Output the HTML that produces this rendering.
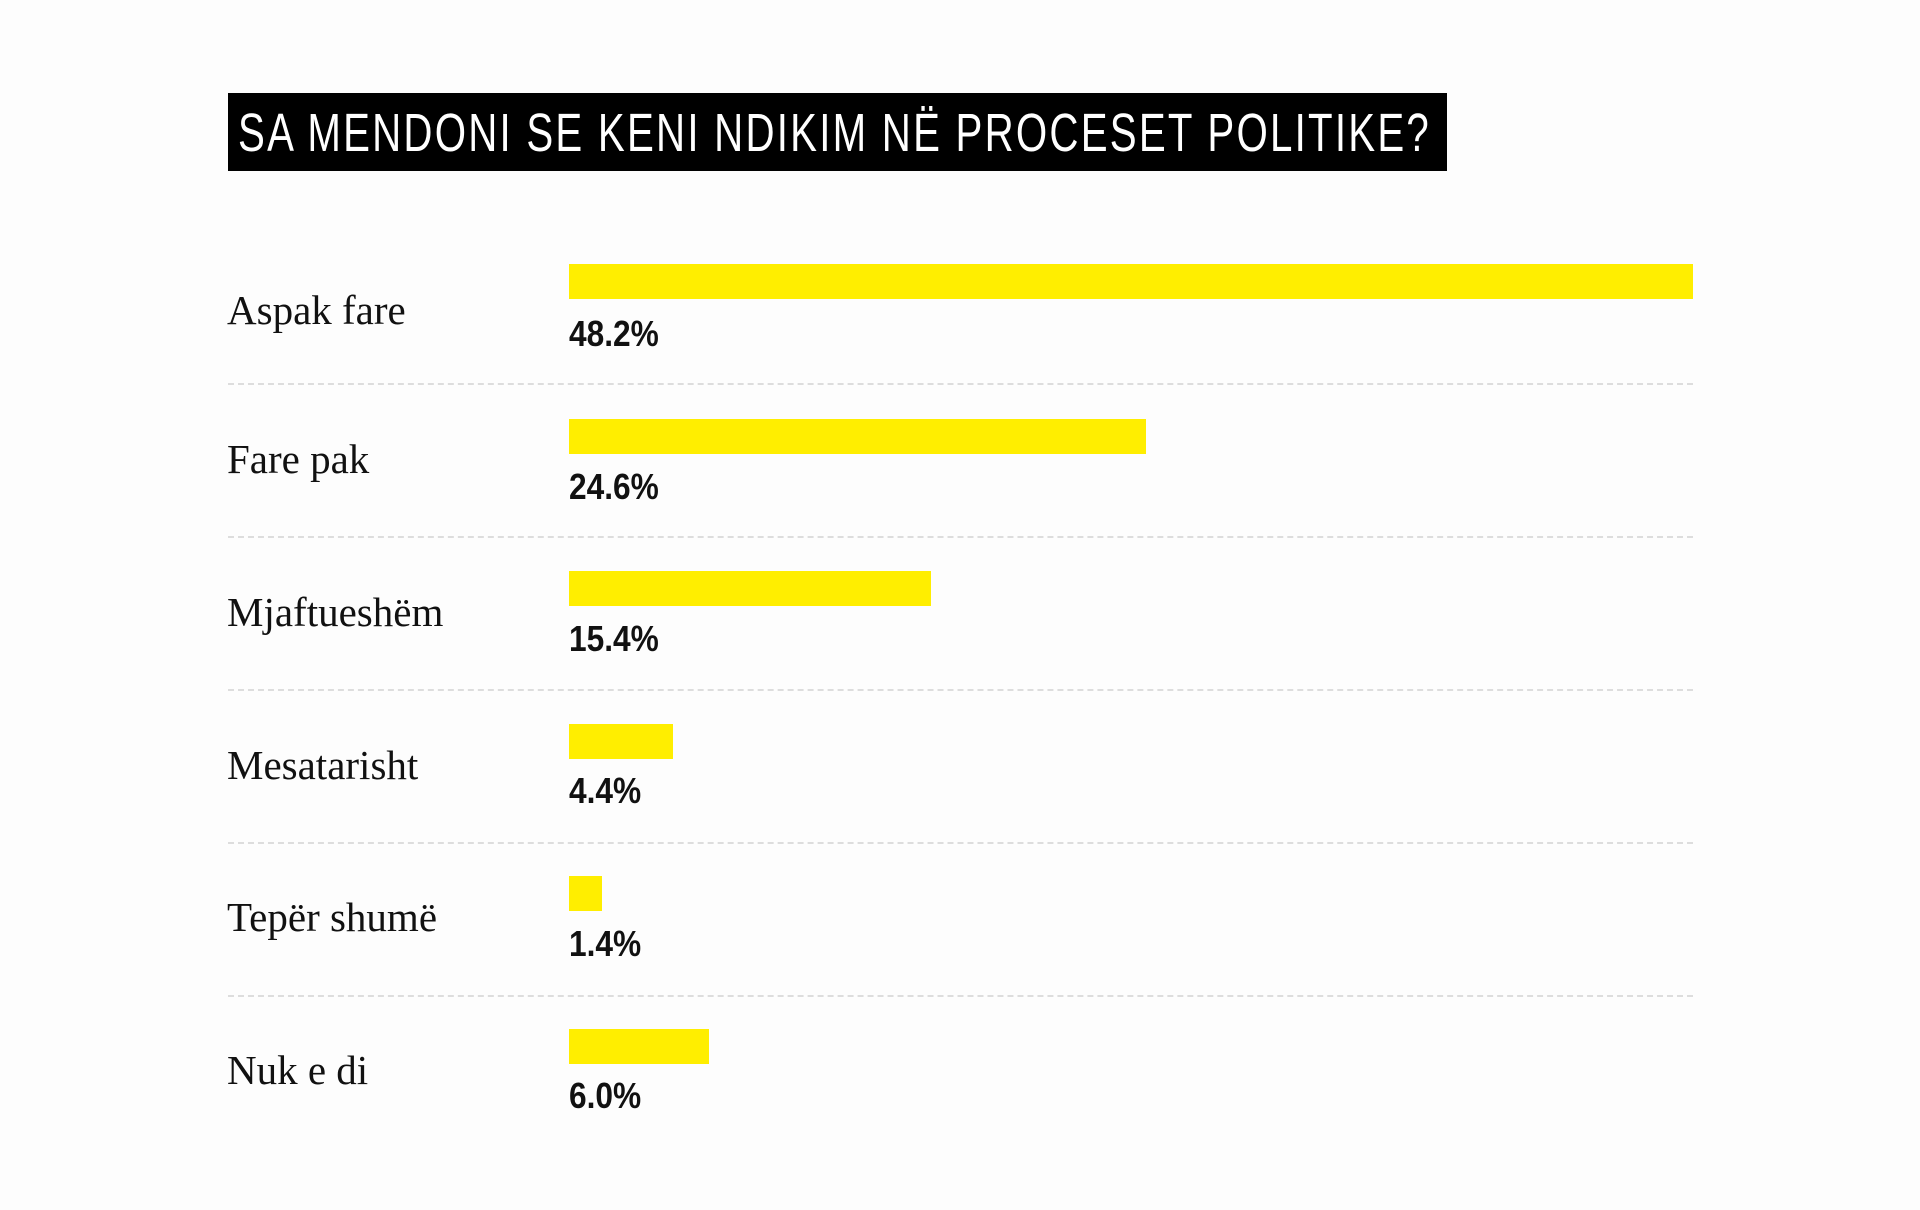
<!DOCTYPE html>
<html><head><meta charset="utf-8"><style>
body{margin:0;width:1920px;height:1210px;background:#fdfdfd;position:relative;overflow:hidden}
.tb{position:absolute;left:228px;top:93px;width:1219px;height:78px;background:#000}
.t{position:absolute;left:238px;top:93px;color:#fff;font-family:"Liberation Sans",sans-serif;font-size:54px;line-height:80px;letter-spacing:3px;white-space:nowrap;transform:scaleX(0.745);transform-origin:0 0}
.b{position:absolute;left:569px;height:35px;background:#ffee00}
.c{position:absolute;left:227px;font-family:"Liberation Serif",serif;font-size:41px;color:#111}
.p{position:absolute;left:569px;font-family:"Liberation Sans",sans-serif;font-weight:bold;font-size:36px;color:#111;transform:scaleX(0.88);transform-origin:0 0}
.d{position:absolute;left:228px;width:1465px;border-top:2px dashed #ddd}
</style></head><body>
<div class="tb"></div>
<div class="t">SA MENDONI SE KENI NDIKIM NË PROCESET POLITIKE?</div>

<div class="c" style="top:286px">Aspak fare</div>
<div class="b" style="top:264px;width:1124px"></div>
<div class="p" style="top:313px">48.2%</div>
<div class="d" style="top:383px"></div>

<div class="c" style="top:435px">Fare pak</div>
<div class="b" style="top:419px;width:577px"></div>
<div class="p" style="top:466px">24.6%</div>
<div class="d" style="top:536px"></div>

<div class="c" style="top:588px">Mjaftueshëm</div>
<div class="b" style="top:571px;width:362px"></div>
<div class="p" style="top:618px">15.4%</div>
<div class="d" style="top:689px"></div>

<div class="c" style="top:741px">Mesatarisht</div>
<div class="b" style="top:724px;width:104px"></div>
<div class="p" style="top:770px">4.4%</div>
<div class="d" style="top:842px"></div>

<div class="c" style="top:893px">Tepër shumë</div>
<div class="b" style="top:876px;width:33px"></div>
<div class="p" style="top:923px">1.4%</div>
<div class="d" style="top:995px"></div>

<div class="c" style="top:1046px">Nuk e di</div>
<div class="b" style="top:1029px;width:140px"></div>
<div class="p" style="top:1075px">6.0%</div>
</body></html>
